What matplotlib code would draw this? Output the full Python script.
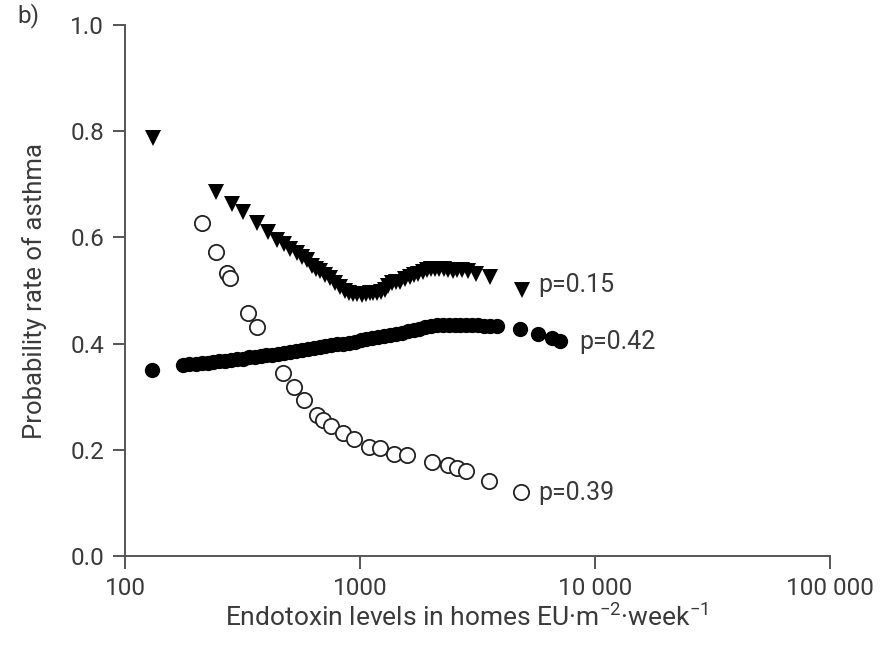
import matplotlib
matplotlib.use("Agg")
import matplotlib.pyplot as plt
from matplotlib.ticker import FixedLocator, FixedFormatter, NullLocator

plt.rcParams['font.family'] = ['Roboto', 'DejaVu Sans']
plt.rcParams['mathtext.default'] = 'regular'

TEXT_COLOR = '#3a3a3a'
AXIS_COLOR = '#555555'

# triangles (p=0.15)
tri_x = [131, 245, 284, 317, 363, 407, 442, 475, 504, 538,
         565, 593, 623, 650, 676, 710, 745, 783, 822, 860,
         900, 937, 975, 1016, 1060, 1104, 1140, 1178, 1225, 1277,
         1320, 1364, 1420, 1479, 1550, 1632, 1700, 1771, 1845, 1920,
         2000, 2083, 2170, 2270, 2370, 2477, 2590, 2708, 2890, 3120,
         3573, 4875]
tri_y = [0.787, 0.686, 0.664, 0.648, 0.627, 0.611, 0.595, 0.587, 0.579, 0.570,
         0.564, 0.557, 0.547, 0.540, 0.536, 0.529, 0.523, 0.514, 0.507, 0.500,
         0.496, 0.494, 0.493, 0.492, 0.493, 0.495, 0.495, 0.495, 0.498, 0.501,
         0.508, 0.514, 0.516, 0.517, 0.522, 0.526, 0.529, 0.532, 0.535, 0.539,
         0.540, 0.540, 0.540, 0.540, 0.539, 0.536, 0.538, 0.539, 0.536, 0.532,
         0.525, 0.501]

# filled circles (p=0.42)
fill_x = [130, 177, 188, 200, 212, 225, 238, 252, 267, 283,
          300, 318, 337, 357, 378, 400, 424, 449, 476, 504,
          534, 566, 600, 635, 673, 713, 755, 800, 848, 898,
          950, 1005, 1065, 1128, 1195, 1265, 1340, 1420, 1505, 1595,
          1690, 1790, 1895, 2005, 2125, 2250, 2385, 2525, 2675, 2835,
          3000, 3180, 3370, 3570, 3820, 4800, 5740, 6550, 7100]
fill_y = [0.350, 0.360, 0.361, 0.362, 0.363, 0.364, 0.366, 0.367, 0.368, 0.370,
          0.371, 0.372, 0.374, 0.375, 0.377, 0.378, 0.379, 0.380, 0.382, 0.384,
          0.386, 0.388, 0.390, 0.392, 0.394, 0.396, 0.397, 0.399, 0.400, 0.402,
          0.404, 0.406, 0.408, 0.410, 0.412, 0.414, 0.416, 0.419, 0.421, 0.423,
          0.425, 0.428, 0.431, 0.433, 0.435, 0.436, 0.436, 0.436, 0.435, 0.435,
          0.435, 0.435, 0.434, 0.434, 0.433, 0.427, 0.419, 0.410, 0.405]

# open circles (p=0.39)
open_x = [212, 244, 271, 280, 335, 366, 472, 524, 580, 655,
          694, 750, 849, 943, 1094, 1216, 1395, 1590, 2019, 2375,
          2596, 2826, 3550, 4830]
open_y = [0.627, 0.573, 0.534, 0.523, 0.457, 0.431, 0.344, 0.318, 0.294, 0.266,
          0.256, 0.245, 0.232, 0.220, 0.205, 0.203, 0.192, 0.190, 0.178, 0.171,
          0.165, 0.160, 0.142, 0.121]

p_labels = ['p=0.15', 'p=0.42', 'p=0.39']
p_label_x = [5715, 8550, 5715]
p_label_y = [0.510, 0.403, 0.119]

x_ticks = [100, 1000, 10000, 100000]
x_tick_labels = ['100', '1000', '10 000', '100 000']
y_ticks = [0.0, 0.2, 0.4, 0.6, 0.8, 1.0]


def main():
    fig = plt.figure(figsize=(8.89, 6.45), dpi=100)
    ax = fig.add_axes([0.1406, 0.138, 0.7931, 0.823])

    ax.plot(fill_x, fill_y, 'o', color='black', markersize=11, markeredgewidth=0)
    ax.plot(open_x, open_y, 'o', markerfacecolor='white', markeredgecolor='#222222',
            markersize=11, markeredgewidth=1.3)
    ax.plot(tri_x, tri_y, 'v', color='black', markersize=11, markeredgewidth=0)

    for label, lx, ly in zip(p_labels, p_label_x, p_label_y):
        ax.text(lx, ly, label, fontsize=18, color=TEXT_COLOR, va='center', ha='left')

    ax.set_xscale('log')
    ax.set_xlim(100, 100000)
    ax.set_ylim(0, 1.0)
    ax.xaxis.set_major_locator(FixedLocator(x_ticks))
    ax.xaxis.set_major_formatter(FixedFormatter(x_tick_labels))
    ax.xaxis.set_minor_locator(NullLocator())
    ax.set_yticks(y_ticks)
    ax.set_yticklabels(['%.1f' % v for v in y_ticks])

    for side in ['top', 'right']:
        ax.spines[side].set_visible(False)
    for side in ['left', 'bottom']:
        ax.spines[side].set_color(AXIS_COLOR)
        ax.spines[side].set_linewidth(1.4)
    ax.tick_params(direction='out', length=9, width=1.4, color=AXIS_COLOR,
                   labelsize=17.5, labelcolor=TEXT_COLOR, pad=6)

    ax.set_xlabel('Endotoxin levels in homes EU·m$^{-2}$·week$^{-1}$',
                  fontsize=19, color=TEXT_COLOR)
    ax.xaxis.set_label_coords(0.485, -0.09)
    ax.set_ylabel('Probability rate of asthma', fontsize=18.5, color=TEXT_COLOR)
    ax.yaxis.set_label_coords(-0.111, 0.5)

    fig.text(0.02, 0.995, 'b)', fontsize=17.5, color=TEXT_COLOR, va='top', ha='left')

    fig.savefig('out.png', dpi=100)


main()
